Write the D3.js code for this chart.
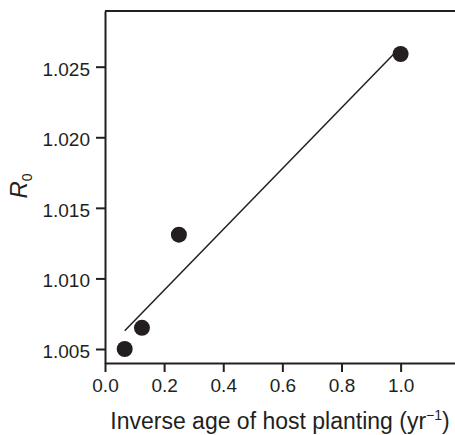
<!doctype html>
<html>
<head>
<meta charset="utf-8">
<script src="https://cdn.jsdelivr.net/npm/d3@7"></script>
<style>
body { margin: 0; background: #fff; }
svg text { font-family: "Liberation Sans", Arial, sans-serif; fill: #231f20; }
.axis path, .axis line { stroke: #231f20; stroke-width: 2; }
</style>
</head>
<body>
<script>
// data
var inverseAge = [0.0667, 0.125, 0.25, 1.0];
var r0 = [1.0050, 1.0065, 1.0131, 1.0259];
// fitted line end points
var fitX = [0.0667, 1.0];
var fitY = [1.0063, 1.0264];
var xTicks = [0, 0.2, 0.4, 0.6, 0.8, 1.0];
var yTicks = [1.005, 1.010, 1.015, 1.020, 1.025];

var W = 455, H = 435;
var margin = {top: 11, right: 0, bottom: 72, left: 105};
var width = W - margin.left - margin.right,
    height = H - margin.top - margin.bottom;

var svg = d3.select("body").append("svg")
    .attr("width", W)
    .attr("height", H);
var g = svg.append("g")
    .attr("transform", "translate(" + margin.left + "," + margin.top + ")");

var x = d3.scaleLinear().domain([0, 1.184]).range([0, width]);
var y = d3.scaleLinear().domain([1.004008, 1.028946]).range([height, 0]);

// x axis
var xa = g.append("g")
    .attr("class", "axis")
    .attr("transform", "translate(0," + height + ")")
    .call(d3.axisBottom(x).tickValues(xTicks).tickSize(9).tickSizeOuter(0).tickPadding(7)
      .tickFormat(d3.format(".1f")));
xa.selectAll("text").style("font-size", "19px");

// y axis
var ya = g.append("g")
    .attr("class", "axis")
    .call(d3.axisLeft(y).tickValues(yTicks).tickSize(9).tickSizeOuter(0).tickPadding(6)
      .tickFormat(d3.format(".3f")));
ya.selectAll("text").style("font-size", "19px").attr("dy", "0.45em");

// top frame line
g.append("line")
    .attr("x1", 0).attr("x2", width)
    .attr("y1", 0).attr("y2", 0)
    .attr("stroke", "#231f20").attr("stroke-width", 2);

// fitted line
g.append("line")
    .attr("x1", x(fitX[0])).attr("y1", y(fitY[0]))
    .attr("x2", x(fitX[1])).attr("y2", y(fitY[1]))
    .attr("stroke", "#231f20").attr("stroke-width", 1.5);

// points
g.selectAll(".dot")
    .data(inverseAge)
  .enter().append("circle")
    .attr("class", "dot")
    .attr("cx", function(d) { return x(d); })
    .attr("cy", function(d, i) { return y(r0[i]); })
    .attr("r", 8)
    .attr("fill", "#231f20");

// axis titles
var xt = svg.append("text")
    .attr("x", margin.left + width / 2)
    .attr("y", 429)
    .attr("text-anchor", "middle")
    .style("font-size", "23px");
xt.append("tspan").text("Inverse age of host planting (yr");
xt.append("tspan").text("\u22121").attr("dy", -9).style("font-size", "14px");
xt.append("tspan").text(")").attr("dy", 9);

var yt = svg.append("text")
    .attr("transform", "translate(27,186) rotate(-90)")
    .attr("text-anchor", "middle")
    .style("font-size", "24px");
yt.append("tspan").text("R").style("font-style", "italic");
yt.append("tspan").text("0").attr("dy", 5).style("font-size", "14px");
</script>
</body>
</html>
